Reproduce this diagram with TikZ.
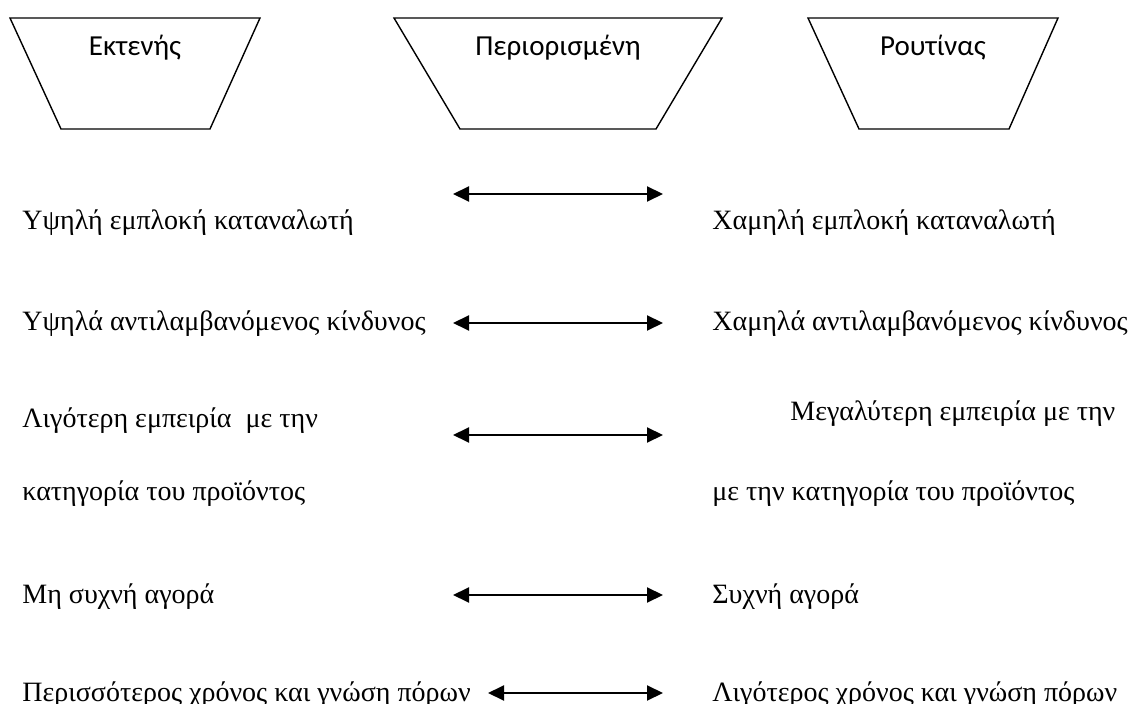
\documentclass[tikz,border=0pt]{standalone}
\usepackage{fontspec}
\setmainfont{Liberation Serif}
\newfontfamily\boxfont{Carlito}
\usetikzlibrary{arrows.meta}

\begin{document}
\begin{tikzpicture}[x=0.5pt,y=-0.5pt,
	txt/.style={anchor=base west,inner sep=0pt,font=\fontsize{14pt}{16pt}\selectfont},
	boxtxt/.style={anchor=base,inner sep=0pt,font=\boxfont\fontsize{14.5pt}{17pt}\selectfont},
	funnel/.style={line width=0.7pt,line join=miter},
	twoway/.style={line width=1pt,{Triangle[length=8pt,width=7.5pt]}-{Triangle[length=8pt,width=7.5pt]}}]
	\useasboundingbox (0,0) rectangle (1133,704);
	% the three decision types
	\draw[funnel] (10,18) -- (260,18) -- (210,129) -- (61,129) -- cycle;
	\draw[funnel] (394,18) -- (722,18) -- (656,129) -- (460,129) -- cycle;
	\draw[funnel] (808,18) -- (1058,18) -- (1009,129) -- (859,129) -- cycle;
	\node[boxtxt] (ext) at (135,56) {Εκτενής};
	\node[boxtxt] (lim) at (558,56) {Περιορισμένη};
	\node[boxtxt] (rou) at (933,56) {Ρουτίνας};
	% left column
	\node[txt] (hinv) at (22,230) {Υψηλή εμπλοκή καταναλωτή};
	\node[txt] (hrisk) at (22,331) {Υψηλά αντιλαμβανόμενος κίνδυνος};
	\node[txt] (lexp) at (22,428) {Λιγότερη εμπειρία\ \ με την};
	\node[txt] (lexpb) at (22,501) {κατηγορία του προϊόντος};
	\node[txt] (rare) at (22,603) {Μη συχνή αγορά};
	\node[txt] (mtime) at (22,701) {Περισσότερος χρόνος και γνώση πόρων};
	% right column
	\node[txt] (linv) at (712,230) {Χαμηλή εμπλοκή καταναλωτή};
	\node[txt] (lrisk) at (712,331) {Χαμηλά αντιλαμβανόμενος κίνδυνος};
	\node[txt] (mexp) at (790,421) {Μεγαλύτερη εμπειρία με την};
	\node[txt] (mexpb) at (712,501) {με την κατηγορία του προϊόντος};
	\node[txt] (freq) at (712,603) {Συχνή αγορά};
	\node[txt] (ltime) at (712,701) {Λιγότερος χρόνος και γνώση πόρων};
	% arrow ends
	\coordinate (a1) at (453,194);
	\coordinate (b1) at (663,194);
	\coordinate (a2) at (453,323);
	\coordinate (b2) at (663,323);
	\coordinate (a3) at (453,435);
	\coordinate (b3) at (663,435);
	\coordinate (a4) at (453,595);
	\coordinate (b4) at (663,595);
	\coordinate (a5) at (488,693);
	\coordinate (b5) at (663,693);
	\draw[twoway] (a1) -- (b1);
	\draw[twoway] (a2) -- (b2);
	\draw[twoway] (a3) -- (b3);
	\draw[twoway] (a4) -- (b4);
	\draw[twoway] (a5) -- (b5);
\end{tikzpicture}
\end{document}
